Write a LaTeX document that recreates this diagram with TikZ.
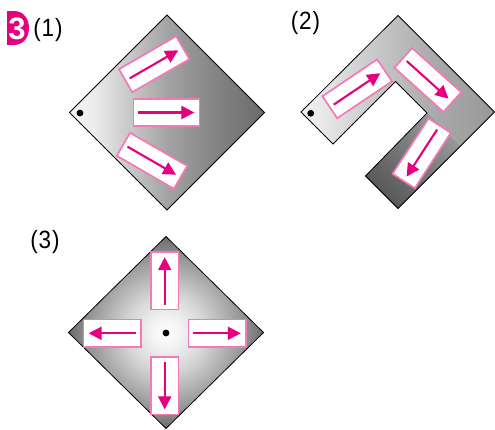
\documentclass[tikz,border=0pt]{standalone}
\usepackage{fontspec}
\usetikzlibrary{arrows.meta,calc}
\setmainfont{Liberation Sans}
\newfontfamily\labelfont{Liberation Sans}[FakeStretch=0.9]

\definecolor{magentaink}{RGB}{230,0,126}
\definecolor{pinkedge}{RGB}{242,122,182}

% sheet (1): light on the left, dark on the right
\pgfdeclarehorizontalshading{sheetone}{100bp}{%
  color(0bp)=(white!97!black); color(25bp)=(white!96!black);
  color(31bp)=(white!93!black); color(38bp)=(white!82!black);
  color(50bp)=(white!64!black); color(62bp)=(white!52!black);
  color(75bp)=(white!42!black); color(100bp)=(white!42!black)}
% sheet (2): base tone of the U-shaped strip
\pgfdeclarehorizontalshading{sheettwo}{100bp}{%
  color(0bp)=(white!96!black); color(25bp)=(white!95!black);
  color(32bp)=(white!90!black); color(40bp)=(white!82!black);
  color(50bp)=(white!74!black); color(60bp)=(white!66!black);
  color(75bp)=(white!60!black); color(100bp)=(white!60!black)}
% darker lower arm of sheet (2)
\pgfdeclarehorizontalshading{armtwo}{100bp}{%
  color(0bp)=(white!62!black); color(25bp)=(white!60!black);
  color(50bp)=(white!47!black); color(75bp)=(white!34!black);
  color(100bp)=(white!31!black)}
% sheet (3): bright centre, dark corners
\pgfdeclareradialshading{sheetthree}{\pgfpointorigin}{%
  color(0bp)=(white); color(4bp)=(white!95!black);
  color(10bp)=(white!84!black); color(15bp)=(white!71!black);
  color(20bp)=(white!58!black); color(25bp)=(white!42!black);
  color(50bp)=(white!42!black)}

\tikzset{
  outline/.style={draw=black, line width=0.8pt, line join=miter},
  longpanel/.style={draw=pinkedge, fill=white, line width=1.7pt,
    inner sep=0pt, minimum width=66pt, minimum height=26.5pt},
  shortpanel/.style={draw=pinkedge, fill=white, line width=1.7pt,
    inner sep=0pt, minimum width=57.5pt, minimum height=27.5pt},
  flow/.style={magentaink, line width=2.1pt,
    -{Triangle[length=13pt,width=13pt]}},
  pin/.style={fill=black},
  caption/.style={inner sep=0pt, font=\labelfont\fontsize{25}{25}\selectfont}
}

\newcommand{\flowin}[1]{%
  \draw[flow] ($(#1.west)!5.5pt!(#1.east)$) -- ($(#1.east)!6pt!(#1.west)$);}

\begin{document}
\begin{tikzpicture}[x=1pt, y=-1pt]
\useasboundingbox (0,0) rectangle (495,429);

% ---------- badge and captions ----------
\fill[magentaink] (7,13) .. controls (7,11) .. (9,11) -- (14,11)
  .. controls (34,11) and (34,45) .. (14,45) -- (9,45)
  .. controls (7,45) .. (7,43) -- cycle;
\node[inner sep=0pt, text=white, font=\bfseries\fontsize{31}{31}\selectfont]
  (badge) at (17,28.5) {3};
\node[caption] (cap1) at (48,30) {(\kern1pt1\kern1pt)};
\node[caption] (cap2) at (305.5,23) {(\kern1pt2\kern1pt)};
\node[caption] (cap3) at (45,242) {(\kern1pt3\kern1pt)};

% ---------- (1) square sheet, flow to the right ----------
\path[shading=sheetone] (167,15) -- (264.5,112.5) -- (167,210) -- (69.5,112.5) -- cycle;
\draw[outline] (167,15) -- (264.5,112.5) -- (167,210) -- (69.5,112.5) -- cycle;
\fill[pin] (80,113) circle[radius=3.4pt];
\node[longpanel, rotate=30]  (oneA) at (154.2,64.2) {};
\node[longpanel]             (oneB) at (166.5,112.5) {};
\node[longpanel, rotate=-30] (oneC) at (152,160.8) {};
\flowin{oneA}
\flowin{oneB}
\flowin{oneC}

% ---------- (2) U-shaped strip ----------
\path[shading=sheettwo] (301,112) -- (398,15.5) -- (494.5,112) -- (398,208.5)
  -- (365.5,176) -- (427,113) -- (395.5,81.5) -- (333,144) -- cycle;
\path[shading=armtwo, shading angle=225] (365.5,176) -- (427,113)
  -- (460.3,146.3) -- (398,208.5) -- cycle;
\draw[outline] (301,112) -- (398,15.5) -- (494.5,112) -- (398,208.5)
  -- (365.5,176) -- (427,113) -- (395.5,81.5) -- (333,144) -- cycle;
\fill[pin] (310.7,113.3) circle[radius=3.4pt];
\node[longpanel, rotate=34]   (twoA) at (357.2,88.8) {};
\node[longpanel, rotate=-42]  (twoB) at (427.8,80) {};
\node[longpanel, rotate=-123] (twoC) at (421.7,153.3) {};
\flowin{twoA}
\flowin{twoB}
\flowin{twoC}

% ---------- (3) square sheet, flow outwards from the centre ----------
\path[shading=sheetthree] (166,236.5) -- (263.5,332.5) -- (166,428.5) -- (68.5,332.5) -- cycle;
\draw[outline] (166,236.5) -- (263.5,332.5) -- (166,428.5) -- (68.5,332.5) -- cycle;
\fill[pin] (166,333) circle[radius=3.4pt];
\node[shortpanel, rotate=90]  (up)    at (164.7,280.8) {};
\node[shortpanel, rotate=-90] (down)  at (164.7,385.8) {};
\node[shortpanel, rotate=180] (left)  at (112.2,333.3) {};
\node[shortpanel]             (right) at (217.2,333.3) {};
\flowin{up}
\flowin{down}
\flowin{left}
\flowin{right}
\end{tikzpicture}
\end{document}
